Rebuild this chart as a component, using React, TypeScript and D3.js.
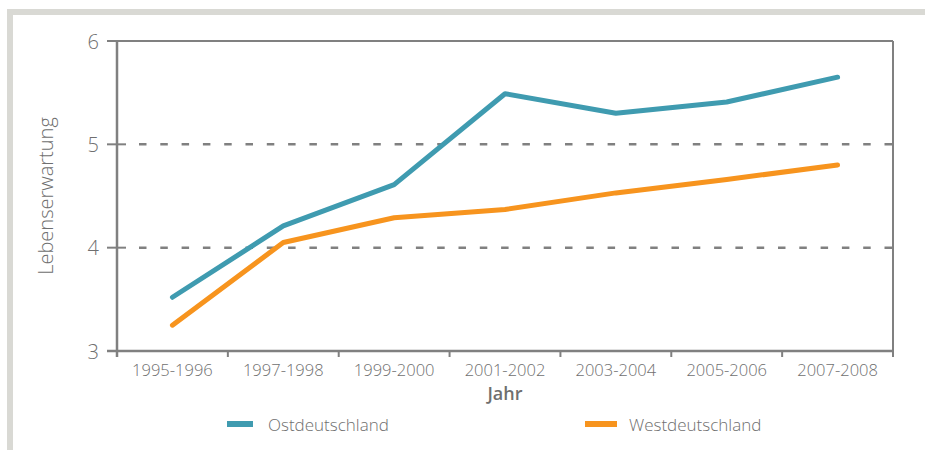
import React from "react";
import * as d3 from "d3";

// Daten
const jahre = ["1995-1996", "1997-1998", "1999-2000", "2001-2002", "2003-2004", "2005-2006", "2007-2008"];
const ost = [3.52, 4.21, 4.61, 5.49, 5.3, 5.41, 5.65];
const west = [3.25, 4.05, 4.29, 4.37, 4.53, 4.66, 4.8];
const yTicks = [3, 4, 5, 6];
const gridTicks = [4, 5];

const W = 925;
const H = 450;
const margin = { left: 117, right: 32, top: 41, bottom: 99 };
const axisColor = "#808080";
const textColor = "#6f6f6f";
const font = "'Open Sans', sans-serif";

export default function App() {
  const xScale = d3
    .scaleBand()
    .domain(jahre)
    .range([margin.left, W - margin.right])
    .paddingInner(0)
    .paddingOuter(0);

  const yScale = d3
    .scaleLinear()
    .domain([3, 6])
    .range([H - margin.bottom, margin.top]);

  const x0 = margin.left;
  const x1 = W - margin.right;
  const yBottom = yScale(3);
  const yTop = yScale(6);

  const line = d3
    .line<number>()
    .x((_, i) => (xScale(jahre[i]) as number) + xScale.bandwidth() / 2)
    .y((v) => yScale(v));

  // Bandgrenzen für Ticks unten
  const bounds = jahre.map((j) => xScale(j) as number).concat([x1]);

  return (
    <svg
      width={W}
      height={H}
      style={{ position: "absolute", left: 0, top: 0, background: "#fff" }}
      fontFamily={font}
      fontWeight={300}
    >
      {/* Rahmen */}
      <rect x={7} y={9} width={W - 7} height={6} fill="#d9d9d4" />
      <rect x={7} y={9} width={6} height={H - 9} fill="#d9d9d4" />

      {/* Gitterlinien */}
      {gridTicks.map((t) => (
        <line
          key={"g" + t}
          x1={x0 + 22}
          x2={x1}
          y1={yScale(t)}
          y2={yScale(t)}
          stroke={axisColor}
          strokeWidth={2.5}
          strokeDasharray="7.5,13.8"
        />
      ))}

      {/* Achsen und Rahmen des Plots */}
      <line x1={x0 - 10} x2={x1} y1={yTop} y2={yTop} stroke={axisColor} strokeWidth={2} />
      <line x1={x1} x2={x1} y1={yTop} y2={yBottom + 6} stroke={axisColor} strokeWidth={2} />
      <line x1={x0 - 10} x2={x1} y1={yBottom} y2={yBottom} stroke={axisColor} strokeWidth={2.5} />
      <line x1={x0} x2={x0} y1={yTop - 1} y2={yBottom + 6} stroke={axisColor} strokeWidth={2.5} />

      {yTicks.map((t) => (
        <g key={"y" + t}>
          <line x1={x0 - 10} x2={x0 + 9} y1={yScale(t)} y2={yScale(t)} stroke={axisColor} strokeWidth={2} />
          <text
            x={x0 - 18}
            y={yScale(t)}
            textAnchor="end"
            dominantBaseline="central"
            fontSize={20}
            fill={textColor}
          >
            {t}
          </text>
        </g>
      ))}

      {bounds.map((b, i) => (
        <line key={"xt" + i} x1={b} x2={b} y1={yBottom} y2={yBottom + 6} stroke={axisColor} strokeWidth={2} />
      ))}

      {jahre.map((j) => (
        <text
          key={j}
          x={(xScale(j) as number) + xScale.bandwidth() / 2}
          y={yBottom + 25}
          textAnchor="middle"
          fontSize={16.5}
          fill={textColor}
        >
          {j}
        </text>
      ))}

      {/* Achsentitel */}
      <text
        x={(x0 + x1) / 2}
        y={400}
        textAnchor="middle"
        fontSize={18}
        fontWeight={600}
        fill={textColor}
      >
        Jahr
      </text>
      <text
        transform={`translate(53, ${(yTop + yBottom) / 2}) rotate(-90)`}
        textAnchor="middle"
        fontSize={20}
        fill={textColor}
      >
        Lebenserwartung
      </text>

      {/* Linien */}
      <path d={line(ost) || ""} fill="none" stroke="#3f9bb0" strokeWidth={5} strokeLinecap="round" strokeLinejoin="round" />
      <path d={line(west) || ""} fill="none" stroke="#f7941e" strokeWidth={5} strokeLinecap="round" strokeLinejoin="round" />

      {/* Legende */}
      <line x1={227} x2={253} y1={424} y2={424} stroke="#3f9bb0" strokeWidth={6} />
      <text x={268} y={424} dominantBaseline="central" fontSize={17} fill={textColor}>
        Ostdeutschland
      </text>
      <line x1={585} x2={617} y1={424} y2={424} stroke="#f7941e" strokeWidth={6} />
      <text x={629} y={424} dominantBaseline="central" fontSize={17} fill={textColor}>
        Westdeutschland
      </text>
    </svg>
  );
}
